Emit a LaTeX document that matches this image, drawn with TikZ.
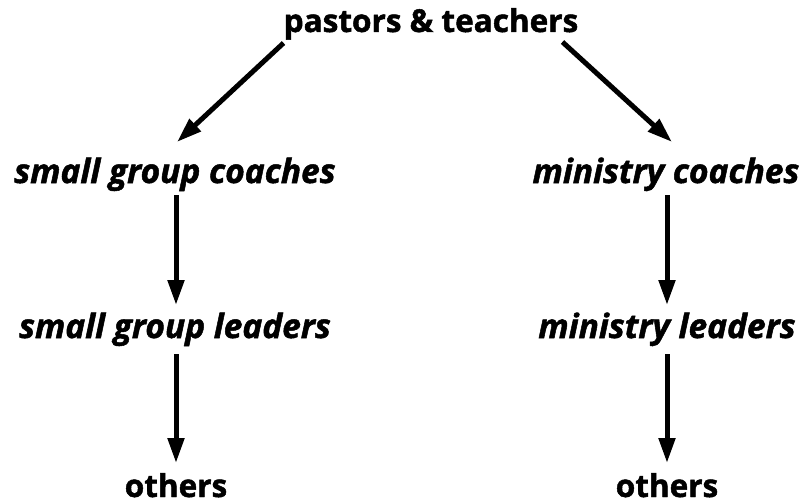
\documentclass[tikz,border=0pt]{standalone}
\usepackage{fontspec}
\setmainfont{Open Sans}[BoldFeatures={FakeBold=1.5},BoldItalicFeatures={FakeBold=1.5}]
\usetikzlibrary{arrows.meta}
\begin{document}
\begin{tikzpicture}[x=1pt,y=-1pt,
  lbl/.style={inner sep=0pt,anchor=base,font=\fontsize{31.5}{33}\selectfont\bfseries},
  ilbl/.style={lbl,font=\fontsize{33.5}{35}\selectfont\bfseries\itshape},
  arr/.style={line width=5pt,-{Triangle[length=25pt,width=16pt]}}]
\useasboundingbox (0,0) rectangle (806,503);
\node[lbl] (pt) at (431,32) {pastors \& teachers};
\node[ilbl] (sgc) at (175,183) {small group coaches};
\node[ilbl] (mc) at (666,183) {ministry coaches};
\node[ilbl] (sgl) at (175,338) {small group leaders};
\node[ilbl] (ml) at (667,338) {ministry leaders};
\node[lbl] (o1) at (176,497) {others};
\node[lbl] (o2) at (667,497) {others};
\draw[arr] ([xshift=0pt,yshift=-11pt]pt.base west) -- ([xshift=2pt,yshift=41pt]sgc.base);
\draw[arr] ([xshift=-16pt,yshift=-10pt]pt.base east) -- ([xshift=6pt,yshift=41pt]mc.base);
\draw[arr] ([xshift=1pt,yshift=-12pt]sgc.base) -- ([xshift=1pt,yshift=33pt]sgl.base);
\draw[arr] ([xshift=1pt,yshift=-12pt]mc.base) -- ([xshift=0pt,yshift=33pt]ml.base);
\draw[arr] ([xshift=1pt,yshift=-16pt]sgl.base) -- ([xshift=0pt,yshift=34pt]o1.base);
\draw[arr] ([xshift=0pt,yshift=-16pt]ml.base) -- ([xshift=0pt,yshift=34pt]o2.base);
\end{tikzpicture}
\end{document}
